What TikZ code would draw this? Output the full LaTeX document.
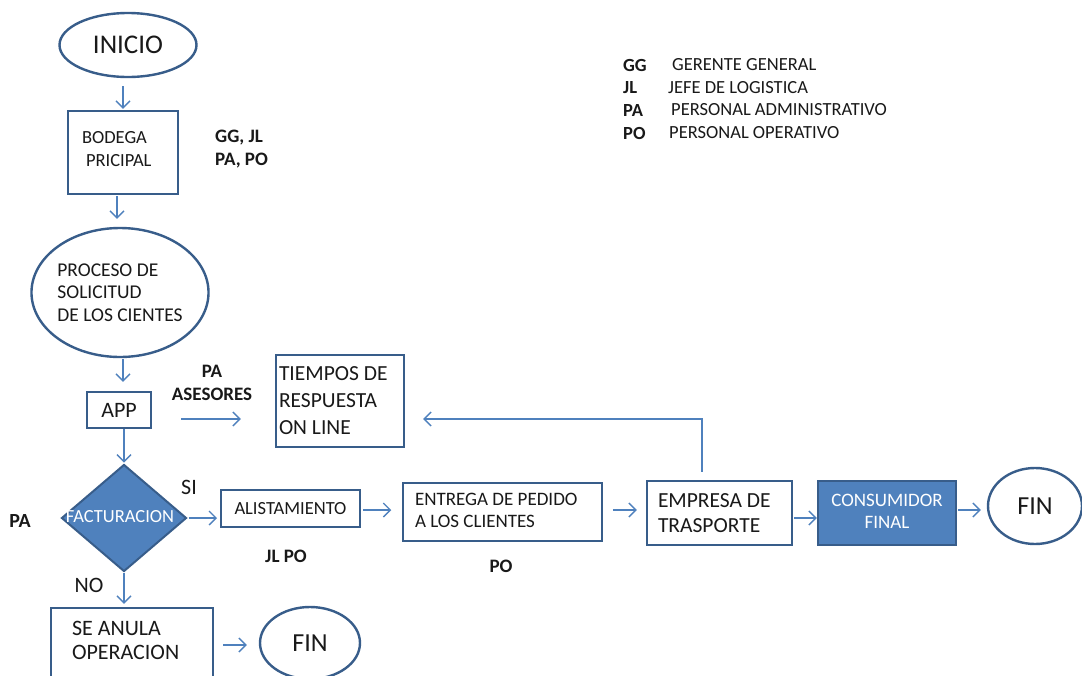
\documentclass[tikz,border=0pt]{standalone}
\usepackage{fontspec}
\setmainfont{Carlito}
\usetikzlibrary{shapes.geometric,arrows.meta}
\definecolor{bdr}{RGB}{56,93,138}
\definecolor{arrc}{RGB}{79,129,189}
\definecolor{fillb}{RGB}{79,129,189}
\definecolor{txt}{RGB}{25,25,25}
\newcommand{\fs}[2]{\fontsize{#1}{#2}\selectfont}
\tikzset{
  box/.style={draw=bdr, line width=2.4pt, rectangle, inner ysep=0pt, text=txt},
  oval/.style={draw=bdr, line width=2.4pt, ellipse, inner sep=0pt, text=txt},
  lbl/.style={inner sep=0pt, text=txt, font=\bfseries\fs{19}{23}},
  plain/.style={inner sep=0pt, text=txt},
  arr/.style={draw=arrc, line width=1.3pt, -{Straight Barb[length=7pt,width=14pt]}},
}
\begin{document}
\begin{tikzpicture}[x=1pt,y=-1pt]
\useasboundingbox (0,0) rectangle (1082,675);
\clip (0,0) rectangle (1082,675);
\fill[white] (0,0) rectangle (1082,675);

% nodes
\node[oval, minimum width=137, minimum height=64, font=\fs{27}{30}] (inicio) at (128,45) {INICIO};
\node[box, minimum width=110, minimum height=83, text width=82, inner xsep=14, align=flush left, font=\fs{18.5}{23}] (bodega) at (123,152.5) {BODEGA\\\hspace*{4pt}PRICIPAL\par\vspace{6pt}};
\node[lbl, anchor=west, align=flush left] (lab1) at (215,149.5) {GG, JL\\PA, PO};
\node[oval, minimum width=173, minimum height=129, align=flush left, font=\fs{19.5}{22.5}] (proceso) at (120,292.5) {PROCESO DE\\SOLICITUD\\DE LOS CIENTES};
\node[box, minimum width=64, minimum height=36, inner xsep=0, font=\fs{22}{24}] (app) at (119,410) {APP};
\node[lbl, align=center] (lab2) at (212,383) {PA\\ASESORES};
\node[box, minimum width=128, minimum height=92, text width=122, inner xsep=3, align=flush left, font=\fs{21.5}{27}] (tiempos) at (340,401) {TIEMPOS DE\\RESPUESTA\\ON LINE};

\node[diamond, draw=bdr, line width=2pt, fill=fillb, minimum width=125, minimum height=107, inner sep=0pt] (fact) at (124,518) {};
\node[plain, text=white, font=\fs{18.5}{22}] (facttxt) at (120,517) {FACTURACION};
\node[plain, font=\fs{22}{24}] (si) at (189,487) {SI};
\node[plain, font=\fs{22}{24}] (no) at (89,585) {NO};
\node[lbl, font=\bfseries\fs{20}{24}] (pa) at (20,521) {PA};

\node[box, line width=2pt, minimum width=139, minimum height=37, inner xsep=0, font=\fs{18.5}{22}] (alist) at (290.5,508.5) {ALISTAMIENTO};
\node[lbl] (jlpo) at (286,556) {JL PO};
\node[box, line width=1.5pt, minimum width=199, minimum height=58, text width=175, inner xsep=12, align=flush left, font=\fs{19}{22}] (entrega) at (502.5,512) {ENTREGA DE PEDIDO\\A LOS CLIENTES\par\vspace{3pt}};
\node[lbl] (po) at (501,566) {PO};
\node[box, minimum width=145, minimum height=64, text width=123, inner xsep=11, align=flush left, font=\fs{21.5}{25}] (empresa) at (719.5,513) {EMPRESA DE\\TRASPORTE};
\node[box, fill=fillb, text=white, minimum width=138, minimum height=64, inner xsep=0, align=center, font=\fs{19}{22}] (consumidor) at (887,513) {CONSUMIDOR\\FINAL\par\vspace{3pt}};
\node[oval, minimum width=94, minimum height=76, font=\fs{26}{28}] (fin1) at (1035,506) {FIN};

\node[box, minimum width=162, minimum height=74, text width=120, inner xsep=21, align=flush left, font=\fs{22}{24}] (anula) at (132,645) {SE ANULA\\OPERACION\par\vspace{9pt}};
\node[oval, minimum width=100, minimum height=72, font=\fs{26}{28}] (fin2) at (310,643) {FIN};

% legend
\node[lbl, anchor=west, font=\bfseries\fs{18.5}{22}] (gg) at (623,65) {GG};
\node[plain, anchor=west, font=\fs{18.5}{22}] (ggd) at (672,65) {GERENTE GENERAL};
\node[lbl, anchor=west, font=\bfseries\fs{18.5}{22}] (jl) at (623,88) {JL};
\node[plain, anchor=west, font=\fs{18.5}{22}] (jld) at (668,88) {JEFE DE LOGISTICA};
\node[lbl, anchor=west, font=\bfseries\fs{18.5}{22}] (pal) at (623,110) {PA};
\node[plain, anchor=west, font=\fs{18.5}{22}] (pad) at (671,110) {PERSONAL ADMINISTRATIVO};
\node[lbl, anchor=west, font=\bfseries\fs{18.5}{22}] (pol) at (623,133) {PO};
\node[plain, anchor=west, font=\fs{18.5}{22}] (pod) at (669,133) {PERSONAL OPERATIVO};

% connectors
\coordinate (asr) at (180,419);
\coordinate (fb) at (702,419);
\draw[arr, shorten <=8pt, shorten >=1pt] (bodega.north |- inicio.south) -- (bodega.north);
\draw[arr, shorten <=1pt, shorten >=8pt] ([xshift=-3pt]proceso.north |- bodega.south) -- ([xshift=-3pt]proceso.north);
\draw[arr, shorten <=1pt, shorten >=9pt] ([xshift=4pt]app.north |- proceso.south) -- ([xshift=4pt]app.north);
\draw[arr, shorten >=1pt] (fact.north |- app.south) -- (fact.north);
\draw[arr, shorten <=29pt, shorten >=34pt] (app.east |- asr) -- (tiempos.west |- asr);
\draw[arr, shorten <=8pt, shorten >=18pt] (empresa.north -| fb) -- (fb) -- (tiempos.east |- fb);
\draw[arr, shorten <=1pt, shorten >=3pt] (fact.east) -- (alist.west |- fact.east);
\draw[arr, shorten <=2pt, shorten >=11pt] ([yshift=2pt]entrega.west -| alist.east) -- ([yshift=2pt]entrega.west);
\draw[arr, shorten <=10pt, shorten >=9pt] ([yshift=2pt]entrega.east) -- ([yshift=2pt]empresa.west |- entrega.east);
\draw[arr, shorten <=1pt, shorten >=0pt] ([yshift=-5pt]empresa.east) -- ([yshift=-5pt]consumidor.west);
\draw[arr, shorten <=1pt, shorten >=6pt] ([yshift=3pt]consumidor.east) -- ([yshift=3pt]fin1.west |- consumidor.east);
\draw[arr, shorten >=3pt] (fact.south) -- (fact.south |- anula.north);
\draw[arr, shorten <=9pt, shorten >=12pt] (anula.east) -- (fin2.west |- anula.east);
\end{tikzpicture}
\end{document}
